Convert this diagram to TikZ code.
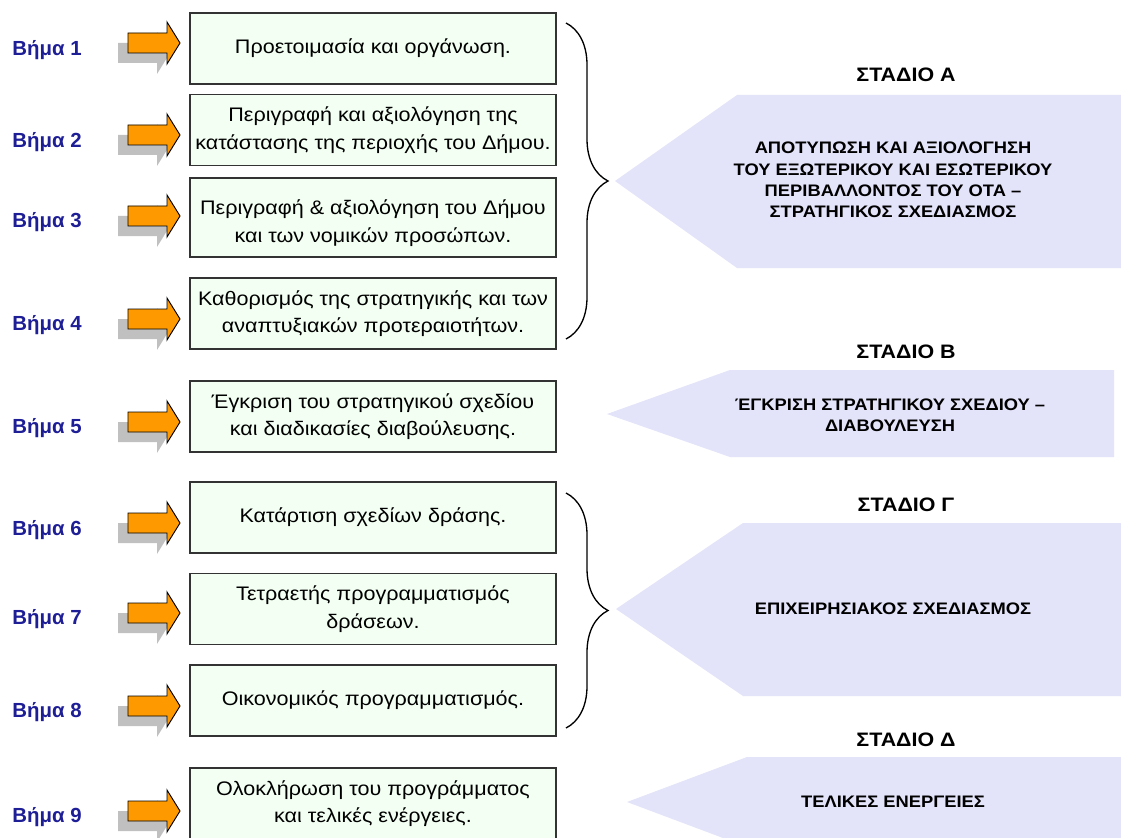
\documentclass[tikz,border=0pt]{standalone}
\usepackage{fontspec}
\setmainfont{Liberation Sans}[FakeStretch=1.1]
\newfontfamily\labelfont{Liberation Sans}
\usepackage{tikz}
\usetikzlibrary{positioning, decorations.pathreplacing}
\definecolor{stBlue}{RGB}{30, 30, 150}
\definecolor{stGreen}{RGB}{243, 255, 243}
\definecolor{stLilac}{RGB}{227, 227, 250}
\definecolor{stOrange}{RGB}{255, 153, 0}
\definecolor{stShadow}{RGB}{192, 192, 192}
\tikzset{
    base/.style={
        font=\fontsize{14.7}{20.5}\selectfont,
        align=center
    },
    stepbox/.style={
        base,
        rectangle,
        draw=black!80,
        line width=0.9pt,
        fill=stGreen,
        minimum width=274.5pt,
        minimum height=53.25pt,
        inner sep=0pt
    },
    steplabel/.style={
        font=\labelfont\bfseries\fontsize{15.3}{18}\selectfont,
        text=stBlue
    },
    stagehead/.style={
        font=\bfseries\fontsize{14.6}{17}\selectfont
    },
    stagetext/.style={
        font=\bfseries\fontsize{12.5}{16}\selectfont,
        align=center
    },
    stagefill/.style={
        fill=stLilac
    },
    blockarrow/.style={
        fill=stOrange,
        draw=black,
        line width=0.7pt,
        line join=miter
    },
    bracket/.style={
        decorate,
        decoration={brace, amplitude=31.5pt},
        line width=1pt
    }
}

\begin{document}
\begin{tikzpicture}[x=0.75pt, y=-0.75pt]
    \clip (0,0) rectangle (1121,838);

    % Stages
    \fill[stagefill] (615,181) -- (737,95) -- (1121,95) -- (1121,268) -- (737,268) -- cycle;
    \fill[stagefill] (607,414) -- (730,370) -- (1114,370) -- (1114,457) -- (730,457) -- cycle;
    \fill[stagefill] (616,609) -- (743,523) -- (1121,523) -- (1121,696) -- (743,696) -- cycle;
    \fill[stagefill] (627,802) -- (747,757) -- (1121,757) -- (1121,847) -- (747,847) -- cycle;

    \node[stagehead] (hA) at (906,75) {ΣΤΑΔΙΟ Α};
    \node[stagehead] (hB) at (906,352) {ΣΤΑΔΙΟ Β};
    \node[stagehead] (hC) at (906,505) {ΣΤΑΔΙΟ Γ};
    \node[stagehead] (hD) at (906,740) {ΣΤΑΔΙΟ Δ};

    \node[stagetext] (tA) at (893,180) {ΑΠΟΤΥΠΩΣΗ ΚΑΙ ΑΞΙΟΛΟΓΗΣΗ\\ΤΟΥ ΕΞΩΤΕΡΙΚΟΥ ΚΑΙ ΕΣΩΤΕΡΙΚΟΥ\\ΠΕΡΙΒΑΛΛΟΝΤΟΣ ΤΟΥ ΟΤΑ –\\ΣΤΡΑΤΗΓΙΚΟΣ ΣΧΕΔΙΑΣΜΟΣ};
    \node[stagetext] (tB) at (890,415) {ΈΓΚΡΙΣΗ ΣΤΡΑΤΗΓΙΚΟΥ ΣΧΕΔΙΟΥ –\\ΔΙΑΒΟΥΛΕΥΣΗ};
    \node[stagetext] (tC) at (893,609) {ΕΠΙΧΕΙΡΗΣΙΑΚΟΣ ΣΧΕΔΙΑΣΜΟΣ};
    \node[stagetext] (tD) at (893,802) {ΤΕΛΙΚΕΣ ΕΝΕΡΓΕΙΕΣ};

    % Steps
    \node[stepbox] (b1) at (373,48.5) {Προετοιμασία και οργάνωση.};
    \node[stepbox] (b2) at (373,130) {Περιγραφή και αξιολόγηση της\\κατάστασης της περιοχής του Δήμου.};
    \node[stepbox, minimum height=59.25pt] (b3) at (373,217.5) {};
    \node[base] (b3text) at (373,223) {Περιγραφή \& αξιολόγηση του Δήμου\\και των νομικών προσώπων.};
    \node[stepbox] (b4) at (373,313.5) {Καθορισμός της στρατηγικής και των\\αναπτυξιακών προτεραιοτήτων.};
    \node[stepbox] (b5) at (373,416.5) {Έγκριση του στρατηγικού σχεδίου\\και διαδικασίες διαβούλευσης.};
    \node[stepbox] (b6) at (373,517.5) {Κατάρτιση σχεδίων δράσης.};
    \node[stepbox] (b7) at (373,609) {Τετραετής προγραμματισμός\\δράσεων.};
    \node[stepbox] (b8) at (373,700.5) {Οικονομικός προγραμματισμός.};
    \node[stepbox] (b9) at (373,803.5) {Ολοκλήρωση του προγράμματος\\και τελικές ενέργειες.};

    % Step labels and arrows
    \foreach \c/\ly/\i in {43/50/1, 135/142/2, 216/222/3, 319/325/4, 422/428/5, 523/530/6, 613/619/7, 706/712/8, 811/817/9} {
        \node[steplabel] (l\i) at (47,\ly) {Βήμα \i};
        \fill[stShadow, shift={(-10,10)}] (128,\c-10) -- (167,\c-10) -- (167,\c-21) -- (180,\c) -- (167,\c+21) -- (167,\c+10) -- (128,\c+10) -- cycle;
        \filldraw[blockarrow] (128,\c-10) -- (167,\c-10) -- (167,\c-21) -- (180,\c) -- (167,\c+21) -- (167,\c+10) -- (128,\c+10) -- cycle;
    }

    % Braces
    \coordinate (brA1) at (566,23);
    \coordinate (brA2) at (566,339);
    \coordinate (brC1) at (566,493);
    \coordinate (brC2) at (566,728);
    \draw[bracket] (brA1) -- (brA2);
    \draw[bracket] (brC1) -- (brC2);
\end{tikzpicture}
\end{document}
